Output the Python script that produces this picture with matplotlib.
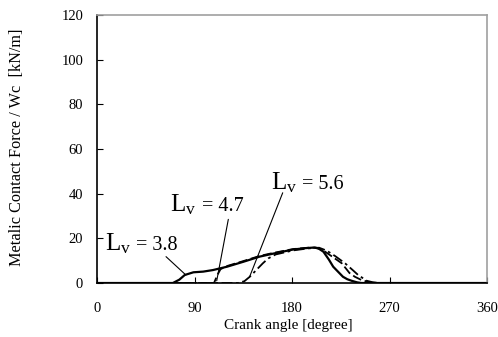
import matplotlib

matplotlib.use("Agg")
import matplotlib.pyplot as plt

plt.rcParams["font.family"] = ["Liberation Serif", "DejaVu Serif"]
plt.rcParams["mathtext.fontset"] = "custom"
plt.rcParams["mathtext.rm"] = "Liberation Serif"
plt.rcParams["mathtext.it"] = "Liberation Serif:italic"

# metallic contact force vs crank angle, one curve per Lv
angle_38 = [0, 70, 76, 81, 89, 98, 107, 120, 135, 150, 163, 181, 192, 201, 205, 209,
            214, 218, 223, 227, 231, 235, 240, 244, 360]
force_38 = [0, 0, 1.5, 3.6, 4.8, 5.1, 5.8, 7.3, 9.5, 11.8, 13.2, 15.0, 15.6, 15.9, 15.3, 14.0,
            10.5, 7.3, 4.8, 2.8, 1.7, 1.0, 0.3, 0, 0]

angle_47 = [0, 108, 111, 114, 120, 135, 150, 163, 181, 195, 203, 210, 218, 226, 233, 238,
            243, 250, 255, 360]
force_47 = [0, 0, 3.5, 6.2, 7.6, 9.8, 12.1, 13.5, 15.2, 15.8, 15.8, 14.2, 11.5, 8.8, 4.5, 2.8,
            1.6, 0.5, 0, 0]

angle_56 = [0, 130, 136, 141, 147, 153, 158, 165, 181, 195, 205, 212, 220, 229, 236, 241,
            249, 254, 260, 360]
force_56 = [0, 0, 0.8, 2.8, 5.8, 8.8, 11.0, 12.8, 14.6, 15.5, 15.8, 14.5, 12.0, 8.8, 5.8, 3.6,
            1.0, 0.4, 0, 0]

lv_values = ["3.8", "4.7", "5.6"]
# label anchor (end of "Lv"), leader start, leader end (on curve)
label_anchor = [(31.4, 14.8), (92.0, 32.2), (184.9, 42.1)]
leader_from = [(63.7, 11.8), (121.2, 28.5), (171.4, 40.4)]
leader_to = [(82.0, 3.6), (110.5, 1.0), (140.6, 2.5)]

x_ticks = [0, 90, 180, 270, 360]
y_ticks = [0, 20, 40, 60, 80, 100, 120]

fig = plt.figure(figsize=(4.98, 3.37), dpi=100)
ax = fig.add_axes([0.1948, 0.1602, 0.978 - 0.1948, 0.9555 - 0.1602])

ax.plot(angle_38, force_38, color="black", lw=1.6, ls="-")
ax.plot(angle_47, force_47, color="black", lw=1.3, ls=(0, (5, 2)))
ax.plot(angle_56, force_56, color="black", lw=1.3, ls=(0, (6, 2, 1.5, 2)))

for lv, anchor, p0, p1 in zip(lv_values, label_anchor, leader_from, leader_to):
    ax.text(anchor[0], anchor[1], r"$\mathrm{L}_{\mathrm{v}}$", fontsize=18,
            ha="right", va="baseline")
    ax.text(anchor[0], anchor[1], f" = {lv}", fontsize=14.5, ha="left", va="baseline")
    ax.annotate("", xy=p1, xytext=p0,
                arrowprops=dict(arrowstyle="-", color="black", lw=0.8,
                                shrinkA=0, shrinkB=0))

ax.set_xlim(0, 360)
ax.set_ylim(0, 120)
ax.set_xticks(x_ticks)
ax.set_yticks(y_ticks)
ax.tick_params(direction="in", length=4, width=0.8, labelsize=10.5, colors="black")
ax.tick_params(axis="x", pad=14)
ax.tick_params(axis="y", pad=10)
for side in ("top", "right"):
    ax.spines[side].set_color("#a0a0a0")
    ax.spines[side].set_linewidth(1.2)
for side in ("left", "bottom"):
    ax.spines[side].set_color("black")
    ax.spines[side].set_linewidth(1.2)

ax.set_xlabel("Crank angle [degree]", fontsize=11)
ax.xaxis.set_label_coords(0.49, -0.135)
ax.set_ylabel("Metalic Contact Force / Wc  [kN/m]", fontsize=11.7)
ax.yaxis.set_label_coords(-0.185, 0.506)

fig.savefig("out.png", dpi=100)
